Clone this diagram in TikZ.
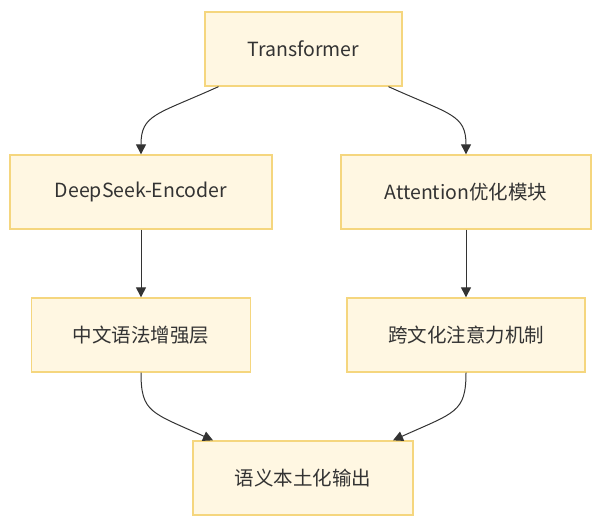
\documentclass[tikz,border=0pt]{standalone}
\usepackage{fontspec}
\setmainfont{Noto Sans CJK SC}
\usetikzlibrary{arrows.meta,calc}
\definecolor{boxfill}{HTML}{FFF7E2}
\definecolor{boxline}{HTML}{F5D67E}
\definecolor{ink}{HTML}{333333}
\begin{document}
\begin{tikzpicture}[x=1pt,y=-1pt,
  box/.style={draw=boxline,fill=boxfill,line width=1.3pt,inner sep=0pt,
    text=ink,font=\fontsize{19.5}{22}\selectfont,anchor=center},
  link/.style={draw=ink,line width=1pt,-{Triangle[length=10pt,width=10pt]}}]
\useasboundingbox (0,0) rectangle (599,527);
\node[box,minimum width=197pt,minimum height=74pt] (T) at (303.5,49) {Transformer};
\node[box,minimum width=262pt,minimum height=74pt] (D) at (141,192) {DeepSeek-Encoder};
\node[box,minimum width=250pt,minimum height=74pt] (A) at (466,192) {Attention优化模块};
\node[box,minimum width=219pt,minimum height=74pt] (Z) at (141,335) {中文语法增强层};
\node[box,minimum width=238pt,minimum height=74pt] (K) at (466,335) {跨文化注意力机制};
\node[box,minimum width=220pt,minimum height=74pt] (Y) at (303,478) {语义本土化输出};
\coordinate (t1) at ($(T.south)+(-85,0)$);
\coordinate (t2) at ($(T.south)+(85,0)$);
\coordinate (y1) at ($(Y.north)+(-90,0)$);
\coordinate (y2) at ($(Y.north)+(90,0)$);
\draw[link] (t1) .. controls ($(t1)+(-62,28)$) and ($(D.north)+(0,-40)$) .. (D.north);
\draw[link] (t2) .. controls ($(t2)+(62,28)$) and ($(A.north)+(0,-40)$) .. (A.north);
\draw[link] (D.south) -- (Z.north);
\draw[link] (A.south) -- (K.north);
\draw[link] (Z.south) .. controls ($(Z.south)+(0,40)$) and ($(y1)+(-62,-28)$) .. (y1);
\draw[link] (K.south) .. controls ($(K.south)+(0,40)$) and ($(y2)+(62,-28)$) .. (y2);
\end{tikzpicture}
\end{document}
